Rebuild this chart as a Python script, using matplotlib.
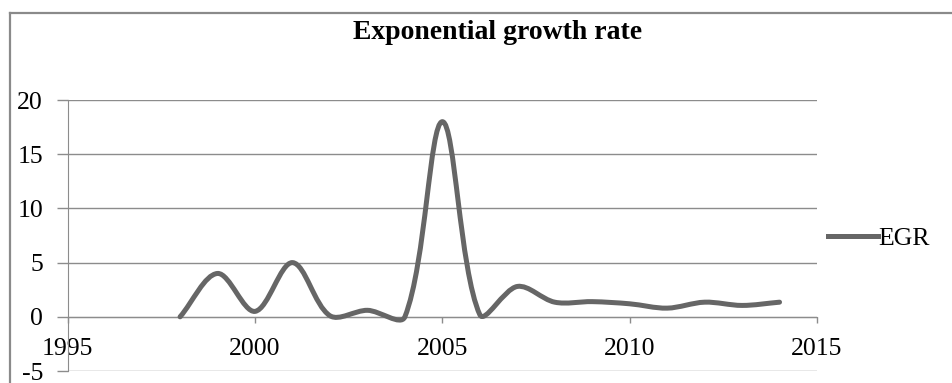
import numpy as np
import matplotlib.pyplot as plt
from matplotlib.path import Path
from matplotlib.patches import PathPatch
from matplotlib.lines import Line2D

plt.rcParams['font.family'] = ['Liberation Serif', 'DejaVu Serif']

years = [1998, 1999, 2000, 2001, 2002, 2003, 2004, 2005, 2006, 2007,
         2008, 2009, 2010, 2011, 2012, 2013, 2014]
egr = [0.0, 4.0, 0.5, 5.0, 0.1, 0.6, 0.0, 18.0, 0.2, 2.8,
       1.35, 1.4, 1.2, 0.8, 1.35, 1.05, 1.35]
x_ticks = [1995, 2000, 2005, 2010, 2015]
y_ticks = [-5, 0, 5, 10, 15, 20]

line_color = '#666666'
grid_color = '#8c8c8c'


def smooth_path(ax, xs, ys, k=1.0 / 3.0):
    # bezier through the points; control arms weighted by on-screen segment length
    trans = ax.transData
    pts = trans.transform(np.column_stack([xs, ys]).astype(float))
    n = len(pts)
    out_arm = np.zeros_like(pts)
    in_arm = np.zeros_like(pts)
    for i in range(n):
        prev_p = pts[i - 1] if i > 0 else pts[i]
        next_p = pts[i + 1] if i < n - 1 else pts[i]
        d_in = np.hypot(*(pts[i] - prev_p))
        d_out = np.hypot(*(next_p - pts[i]))
        tot = d_in + d_out
        if tot == 0:
            continue
        tangent = next_p - prev_p
        out_arm[i] = tangent * k * d_out / tot
        in_arm[i] = tangent * k * d_in / tot
    verts = [pts[0]]
    codes = [Path.MOVETO]
    for i in range(n - 1):
        verts += [pts[i] + out_arm[i], pts[i + 1] - in_arm[i + 1], pts[i + 1]]
        codes += [Path.CURVE4] * 3
    verts = trans.inverted().transform(np.array(verts))
    return Path(verts, codes)


fig = plt.figure(figsize=(9.52, 3.83), dpi=100)
ax = fig.add_axes([0.0711, 0.0313, 0.7871, 0.7076])
ax.set_xlim(1995, 2015)
ax.set_ylim(-5, 20)

ax.add_patch(PathPatch(smooth_path(ax, years, egr), facecolor='none',
                       edgecolor=line_color, lw=3.6, capstyle='round',
                       joinstyle='round', zorder=3))

for side in ['top', 'right']:
    ax.spines[side].set_visible(False)
ax.spines['left'].set_color(grid_color)
ax.spines['bottom'].set_color(grid_color)
ax.spines['bottom'].set_position(('data', 0))

ax.set_xticks(x_ticks)
ax.set_yticks(y_ticks)
ax.set_xticklabels([str(t) for t in x_ticks])
ax.set_yticklabels([str(t) for t in y_ticks])

ax.yaxis.grid(True, color=grid_color, lw=1.0)
ax.set_axisbelow(True)

ax.tick_params(axis='y', length=7.7, width=1.0, color=grid_color, pad=10,
               labelsize=18.5)
ax.tick_params(axis='x', direction='out', length=4.5, width=1.0,
               color=grid_color, pad=11, labelsize=18.5)

fig.text(0.523, 0.916, 'Exponential growth rate', ha='center', va='center',
         fontsize=20, fontweight='bold')

handle = Line2D([], [], color=line_color, lw=3.6)
fig.legend([handle], ['EGR'], loc='center left', bbox_to_anchor=(0.870, 0.376),
           frameon=False, fontsize=18.5, handlelength=1.95, handletextpad=0.0,
           borderpad=0, borderaxespad=0)

# chart frame
fig.add_artist(Line2D([0.0105, 0.0105], [0.0, 0.966], color='#8a8a8a', lw=1.6,
                      transform=fig.transFigure))
fig.add_artist(Line2D([0.0105, 1.0], [0.966, 0.966], color='#8a8a8a', lw=1.6,
                      transform=fig.transFigure))

fig.savefig('out.png', dpi=100, facecolor='white')
